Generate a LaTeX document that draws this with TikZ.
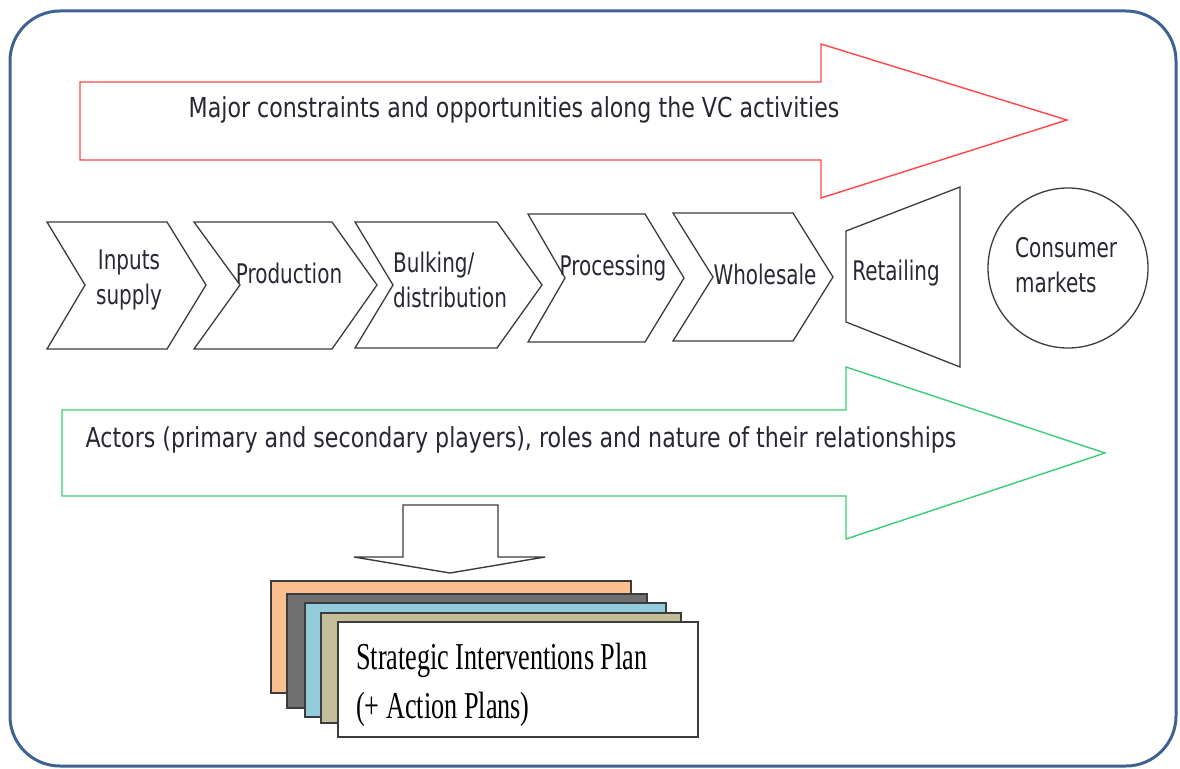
\documentclass[tikz,border=0pt]{standalone}
\usepackage{fontspec}
\newfontfamily\vcsans[FakeStretch=0.74]{DejaVu Sans}
\newfontfamily\vcsanswide[FakeStretch=0.805]{DejaVu Sans}
\newfontfamily\vcserif[FakeStretch=0.69]{Liberation Serif}
\definecolor{framecol}{RGB}{62,98,146}
\definecolor{redline}{RGB}{255,70,70}
\definecolor{greenline}{RGB}{60,205,115}
\definecolor{shapeline}{RGB}{60,60,60}
\definecolor{txtcol}{RGB}{40,40,52}
\definecolor{planorange}{RGB}{250,192,144}
\definecolor{plangray}{RGB}{112,112,112}
\definecolor{planblue}{RGB}{146,205,220}
\definecolor{plantan}{RGB}{196,189,151}
\begin{document}
\begin{tikzpicture}[x=1pt,y=-1pt,
  chevron/.style={draw=shapeline,line width=1.3pt,fill=white,line join=miter},
  bigarrow/.style={line width=1.4pt,fill=white,line join=miter},
  lbl/.style={font=\vcsans\fontsize{27}{35}\selectfont,text=txtcol,inner sep=0pt},
  arrowlbl/.style={font=\vcsanswide\fontsize{27.5}{35}\selectfont,text=txtcol,inner sep=0pt},
  planpage/.style={draw=shapeline,line width=1.1pt},
  plantext/.style={font=\vcserif\fontsize{38}{49}\selectfont,text=black,inner sep=0pt,align=left}]
\useasboundingbox (0,0) rectangle (1180,768);

% outer frame
\draw[framecol,line width=3pt,rounded corners=50pt] (10,11) rectangle (1176,766);

% upper block arrow: constraints and opportunities
\draw[bigarrow,draw=redline] (80,82) -- (821,82) -- (821,44) -- (1067,120)
  -- (821,198) -- (821,160) -- (80,160) -- cycle;
\node[arrowlbl] (constraints) at (514,110) {Major constraints and opportunities along the VC activities};

% lower block arrow: actors and relationships
\draw[bigarrow,draw=greenline] (62,410) -- (846,410) -- (846,367) -- (1105,453)
  -- (846,539) -- (846,496) -- (62,496) -- cycle;
\node[arrowlbl] (actors) at (521,440) {Actors (primary and secondary players), roles and nature of their relationships};

% value chain stages
\draw[chevron] (47,222) -- (167,222) -- (206,285) -- (167,349) -- (47,349) -- (85,285) -- cycle;
\draw[chevron] (194,222) -- (332,222) -- (377,285) -- (332,349) -- (194,349) -- (240,285) -- cycle;
\draw[chevron] (355,222) -- (497,222) -- (542,285) -- (497,348) -- (355,348) -- (393,285) -- cycle;
\draw[chevron] (528,214) -- (645,214) -- (684,278) -- (645,342) -- (528,342) -- (565,278) -- cycle;
\draw[chevron] (673,213) -- (793,213) -- (833,277) -- (793,341) -- (673,341) -- (713,277) -- cycle;
\draw[chevron] (846,231) -- (960,187) -- (960,367) -- (846,322) -- cycle;

\node[lbl,align=center] (inputs) at (129,280) {Inputs\\supply};
\node[lbl] (production) at (289,273) {Production};
\node[lbl,align=left,anchor=west] (bulking) at (393,280) {Bulking/\\distribution};
\node[lbl] (processing) at (613,268) {Processing};
\node[lbl] (wholesale) at (765,274) {Wholesale};
\node[lbl] (retailing) at (896,273) {Retailing};

\node[draw=shapeline,line width=1.3pt,circle,minimum size=160pt,inner sep=0pt] (consumer) at (1068,268) {};
\node[lbl,align=left,anchor=west] (consumertext) at (1015,265) {Consumer\\markets};

% downward block arrow
\draw[bigarrow,draw=shapeline] (403,505) -- (498,505) -- (498,557) -- (545,557)
  -- (450,573) -- (354,557) -- (403,557) -- cycle;

% stacked plan sheets
\filldraw[planpage,fill=planorange] (271,581) rectangle (631,693);
\filldraw[planpage,fill=plangray] (287,594) rectangle (647,708);
\filldraw[planpage,fill=planblue] (305,603) rectangle (666,717);
\filldraw[planpage,fill=plantan] (321,613) rectangle (681,723);
\filldraw[planpage,fill=white] (338,622) rectangle (698,737);
\node[plantext,anchor=west] (plan) at (356,685) {Strategic Interventions Plan\\(+ Action Plans)};
\end{tikzpicture}
\end{document}
